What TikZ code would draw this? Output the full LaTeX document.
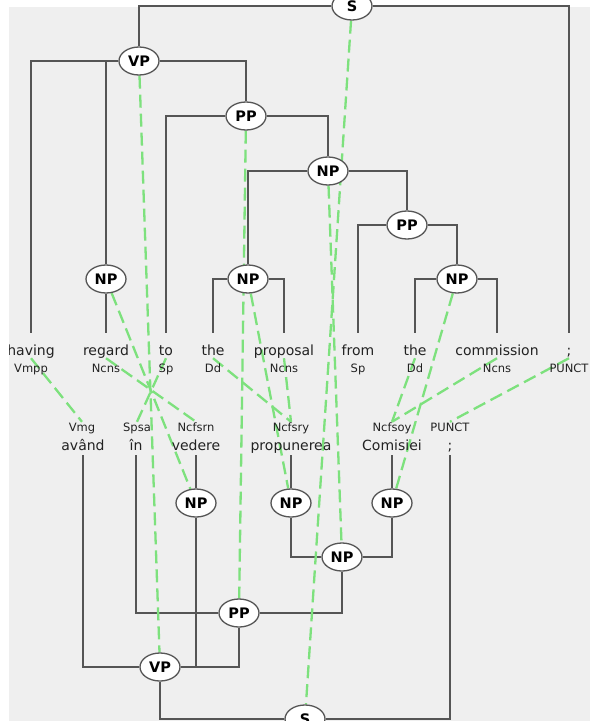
\documentclass[tikz,border=0pt]{standalone}
\usepackage{fontspec}
\setmainfont{DejaVu Sans}
\usetikzlibrary{shapes.geometric}
\definecolor{bggray}{HTML}{EFEFEF}
\definecolor{treegray}{HTML}{555555}
\definecolor{aligngreen}{RGB}{125,225,125}
\definecolor{wordcol}{HTML}{222222}
\pgfdeclarelayer{bglayer}
\pgfdeclarelayer{linelayer}
\pgfsetlayers{bglayer,linelayer,main}
\begin{document}
\begin{tikzpicture}[x=1pt,y=-1pt,
  phrase/.style={ellipse, draw=treegray, line width=1.3pt, fill=white, minimum width=40pt, minimum height=28pt, inner sep=0pt, font=\fontsize{14.5}{14.5}\selectfont\bfseries, text=black},
  topword/.style={anchor=base, inner sep=0pt, text height=22pt, text depth=3pt, font=\fontsize{14}{16}\selectfont, text=wordcol},
  botword/.style={anchor=base, inner sep=0pt, text height=12pt, text depth=5pt, font=\fontsize{14}{16}\selectfont, text=wordcol},
  tagtxt/.style={anchor=base, inner sep=0pt, text height=9pt, text depth=0pt, font=\fontsize{11.5}{12}\selectfont, text=wordcol},
  tree/.style={draw=treegray, line width=2.5pt},
  align/.style={draw=aligngreen, line width=2.3pt, dash pattern=on 13pt off 6pt}]
\useasboundingbox (0,0) rectangle (590,721);
\begin{pgfonlayer}{bglayer}
\fill[white] (0,0) rectangle (590,721);
\fill[bggray] (9,7) rectangle (590,721);
\end{pgfonlayer}

% top tree phrase nodes
\node[phrase] (s1) at (352,6) {S};
\node[phrase] (vp1) at (139,61) {VP};
\node[phrase] (pp1) at (246,116) {PP};
\node[phrase] (np1) at (328,171) {NP};
\node[phrase] (pp3) at (407,225) {PP};
\node[phrase] (npr) at (106,279) {NP};
\node[phrase] (np2) at (248,279) {NP};
\node[phrase] (np4) at (457,279) {NP};

% top words
\node[topword] (w1) at (31,355) {having};
\node[topword] (w2) at (106,355) {regard};
\node[topword] (w3) at (166,355) {to};
\node[topword] (w4) at (213,355) {the};
\node[topword] (w5) at (284,355) {proposal};
\node[topword] (w6) at (358,355) {from};
\node[topword] (w7) at (415,355) {the};
\node[topword] (w8) at (497,355) {commission};
\node[topword] (w9) at (569,355) {;};
% top tags
\node[tagtxt] (t1) at (31,372) {Vmpp};
\node[tagtxt] (t2) at (106,372) {Ncns};
\node[tagtxt] (t3) at (166,372) {Sp};
\node[tagtxt] (t4) at (213,372) {Dd};
\node[tagtxt] (t5) at (284,372) {Ncns};
\node[tagtxt] (t6) at (358,372) {Sp};
\node[tagtxt] (t7) at (415,372) {Dd};
\node[tagtxt] (t8) at (497,372) {Ncns};
\node[tagtxt] (t9) at (569,372) {PUNCT};

% bottom tags
\node[tagtxt] (b1) at (82,431) {Vmg};
\node[tagtxt] (b2) at (137,431) {Spsa};
\node[tagtxt] (b3) at (196,431) {Ncfsrn};
\node[tagtxt] (b4) at (291,431) {Ncfsry};
\node[tagtxt] (b5) at (392,431) {Ncfsoy};
\node[tagtxt] (b6) at (450,431) {PUNCT};
% bottom words
\node[botword] (u1) at (83,450) {având};
\node[botword] (u2) at (136,450) {în};
\node[botword] (u3) at (196,450) {vedere};
\node[botword] (u4) at (291,450) {propunerea};
\node[botword] (u5) at (392,450) {Comisiei};
\node[botword] (u6) at (450,450) {;};

% bottom tree phrase nodes
\node[phrase] (npv) at (196,503) {NP};
\node[phrase] (npp) at (291,503) {NP};
\node[phrase] (npc) at (392,503) {NP};
\node[phrase] (np3) at (342,557) {NP};
\node[phrase] (pp2) at (239,613) {PP};
\node[phrase] (vp2) at (160,667) {VP};
\node[phrase] (s2) at (305,719) {S};

\begin{pgfonlayer}{linelayer}
% top tree
\draw[tree] (s1) -| (vp1);
\draw[tree] (s1) -| (w9.north);
\draw[tree] (vp1) -| (w1.north);
\draw[tree] (vp1) -| (npr);
\draw[tree] (vp1) -| (pp1);
\draw[tree] (npr) -- (w2.north);
\draw[tree] (pp1) -| (w3.north);
\draw[tree] (pp1) -| (np1);
\draw[tree] (np1) -| (np2);
\draw[tree] (np1) -| (pp3);
\draw[tree] (np2) -| (w4.north);
\draw[tree] (np2) -| (w5.north);
\draw[tree] (pp3) -| (w6.north);
\draw[tree] (pp3) -| (np4);
\draw[tree] (np4) -| (w7.north);
\draw[tree] (np4) -| (w8.north);
% bottom tree
\draw[tree] (u3.south) -- (npv);
\draw[tree] (u4.south) -- (npp);
\draw[tree] (u5.south) -- (npc);
\draw[tree] (npp) |- (np3);
\draw[tree] (npc) |- (np3);
\draw[tree] (np3) |- (pp2);
\draw[tree] (u2.south) |- (pp2);
\draw[tree] (pp2) |- (vp2);
\draw[tree] (npv) |- (vp2);
\draw[tree] (u1.south) |- (vp2);
\draw[tree] (vp2) |- (s2);
\draw[tree] (u6.south) |- (s2);
% alignment of phrases
\draw[align] (s1) -- (s2);
\draw[align] (vp1) -- (vp2);
\draw[align] (pp1) -- (pp2);
\draw[align] (np1) -- (np3);
\draw[align] (npr) -- (npv);
\draw[align] (np2) -- (npp);
\draw[align] (np4) -- (npc);
% alignment of words
\draw[align] (w1.south) -- (b1.north);
\draw[align] (w2.south) -- (b3.north);
\draw[align] (w3.south) -- (b2.north);
\draw[align] (w4.south) -- (b4.north);
\draw[align] (w5.south) -- (b4.north);
\draw[align] (w7.south) -- (b5.north);
\draw[align] (w8.south) -- (b5.north);
\draw[align] (w9.south) -- (b6.north);
\end{pgfonlayer}

\fill[white] (0,0) rectangle (9,721);
\end{tikzpicture}
\end{document}
